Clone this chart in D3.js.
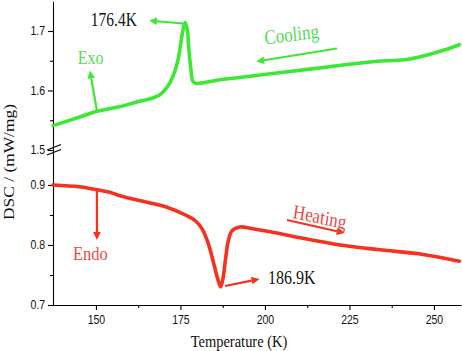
<!DOCTYPE html>
<html>
<head>
<meta charset="utf-8">
<script src="https://cdn.jsdelivr.net/npm/d3@7"></script>
<style>
  body { margin: 0; background: #fff; }
  svg { display: block; }
</style>
</head>
<body>
<svg width="462" height="351"></svg>
<script>
// cooling run (upper curve, green)
const tempCool = [137.3, 145.0, 150.3, 157.1, 163.0, 166.0, 168.9, 171.0, 172.8, 174.3, 175.0, 175.6, 176.4,
                  177.0, 177.5, 178.1, 178.7, 179.6, 186.7, 195.6, 207.4, 219.2, 231.1, 242.9, 248.8, 253.0, 257.5];
const dscCool  = [1.541, 1.555, 1.565, 1.573, 1.582, 1.586, 1.593, 1.605, 1.624, 1.652, 1.675, 1.697, 1.714,
                  1.703, 1.669, 1.635, 1.615, 1.612, 1.618, 1.624, 1.632, 1.640, 1.648, 1.653, 1.661, 1.668, 1.677];

// heating run (lower curve, red)
const tempHeat = [137.3, 145.0, 150.3, 154.1, 157.1, 166.0, 171.0, 176.5, 179.5, 181.5, 183.2, 184.9, 186.0, 186.9,
                  187.6, 188.3, 189.1, 190.2, 192.6, 195.6, 201.5, 210.4, 222.2, 234.0, 245.9, 257.5];
const dscHeat  = [0.900, 0.897, 0.892, 0.888, 0.882, 0.870, 0.863, 0.850, 0.840, 0.826, 0.803, 0.768, 0.744, 0.730,
                  0.745, 0.775, 0.805, 0.823, 0.830, 0.828, 0.822, 0.812, 0.800, 0.792, 0.785, 0.773];

// axis ticks
const xTicks = [150, 175, 200, 225, 250];
const xMinor = [162.5, 187.5, 212.5, 237.5];
const yTicksUp = [1.5, 1.6, 1.7];
const yMinorUp = [1.55, 1.65];
const yTicksLow = [0.7, 0.8, 0.9];
const yMinorLow = [0.75, 0.85];

const green = "#3be834", greenText = "#55dc55";
const red = "#f5321e", redText = "#ea4a4a";
const serif = "'Liberation Serif', 'Times New Roman', serif";
const sans = "'Liberation Sans', Arial, sans-serif";

const svg = d3.select("svg");
const area = { left: 53, right: 461, top: 1, bottom: 305, brk: 150 };

// шкалы: одна по X и две по Y (ось с разрывом)
const scX = d3.scaleLinear().domain([137.3, 258.0]).range([area.left, area.right]);
const scUp = d3.scaleLinear().domain([1.5, 1.75]).range([area.brk, area.top + 0.25]);
const scLow = d3.scaleLinear().domain([0.7, 0.9583]).range([area.bottom, area.brk]);

function styleAxis(g) {
    g.selectAll("path, line").attr("stroke", "#000").attr("stroke-width", 1.1);
    g.selectAll("text").attr("font-family", sans).attr("font-size", 10.5).attr("fill", "#111");
}

// x axis
const gx = svg.append("g")
    .attr("transform", `translate(0, ${area.bottom})`)
    .call(d3.axisBottom(scX).tickValues(xTicks).tickSize(5).tickSizeOuter(0))
    .call(styleAxis);
gx.selectAll("text").attr("transform", "scale(1, 1.2)");

svg.append("g")
    .attr("transform", `translate(0, ${area.bottom})`)
    .call(d3.axisBottom(scX).tickValues(xMinor).tickSize(3).tickFormat(""))
    .call(g => g.select(".domain").remove())
    .call(styleAxis);

// y axis, two segments
[[scUp, yTicksUp, yMinorUp], [scLow, yTicksLow, yMinorLow]].forEach(([sc, major, minor]) => {
    const g = svg.append("g")
        .attr("transform", `translate(${area.left}, 0)`)
        .call(d3.axisLeft(sc).tickValues(major).tickSize(5).tickSizeOuter(0).tickFormat(d3.format(".1f")))
        .call(styleAxis);
    g.selectAll("text").attr("transform", "scale(1, 1.2)").attr("dy", "0.3em");

    svg.append("g")
        .attr("transform", `translate(${area.left}, 0)`)
        .call(d3.axisLeft(sc).tickValues(minor).tickSize(3).tickFormat(""))
        .call(g => g.select(".domain").remove())
        .call(styleAxis);
});

// знак разрыва оси
[-2.5, 2.5].forEach(off => {
    svg.append("line")
        .attr("x1", area.left - 6).attr("y1", area.brk + off + 2.5)
        .attr("x2", area.left + 8).attr("y2", area.brk + off - 3)
        .attr("stroke", "#000").attr("stroke-width", 1.2);
});

// curves
function drawCurve(temps, vals, sc, color) {
    const pts = temps.map((t, i) => [t, vals[i]]);
    const line = d3.line()
        .x(d => scX(d[0]))
        .y(d => sc(d[1]))
        .curve(d3.curveCatmullRom.alpha(0.5));
    svg.append("path")
        .datum(pts)
        .attr("d", line)
        .attr("fill", "none")
        .attr("stroke", color)
        .attr("stroke-width", 3.6)
        .attr("stroke-linejoin", "round")
        .attr("stroke-linecap", "round");
}
drawCurve(tempCool, dscCool, scUp, green);
drawCurve(tempHeat, dscHeat, scLow, red);

// стрелка: из (t1,v1) в (t2,v2) в координатах данных
function arrow(sc, t1, v1, t2, v2, color) {
    const x1 = scX(t1), y1 = sc(v1), x2 = scX(t2), y2 = sc(v2);
    const a = Math.atan2(y2 - y1, x2 - x1), L = 8, w = 3.8;
    const bx = x2 - L * Math.cos(a), by = y2 - L * Math.sin(a);
    svg.append("line")
        .attr("x1", x1).attr("y1", y1).attr("x2", bx).attr("y2", by)
        .attr("stroke", color).attr("stroke-width", 2.2);
    svg.append("path")
        .attr("d", `M${x2},${y2}L${bx - w * Math.sin(a)},${by + w * Math.cos(a)}L${bx + w * Math.sin(a)},${by - w * Math.cos(a)}Z`)
        .attr("fill", color);
}

function label(x, y, txt, size, color, opts = {}) {
    svg.append("text")
        .attr("transform", `translate(${x}, ${y}) scale(1, 1.2) ${opts.rot ? "rotate(" + opts.rot + ")" : ""}`)
        .attr("text-anchor", opts.anchor || "start")
        .attr("font-family", serif)
        .attr("font-size", size)
        .attr("fill", color)
        .text(txt);
}

// annotations, upper
arrow(scUp, 175.8, 1.7126, 165.7, 1.7176, green);
label(scX(162.1), scUp(1.7076), "176.4K", 15.5, "#111", { anchor: "end" });
arrow(scUp, 150.3, 1.566, 148.2, 1.6336, green);
label(scX(144.6), scUp(1.6437), "Exo", 16, greenText);
arrow(scUp, 221.3, 1.6706, 197.4, 1.6487, green);
label(scX(200.0), scUp(1.6773), "Cooling", 17, greenText, { rot: -6 });

// annotations, lower
arrow(scLow, 150.3, 0.8917, 150.3, 0.8083, red);
label(scX(143.2), scLow(0.775), "Endo", 16.5, redText);
arrow(scLow, 206.5, 0.8417, 223.6, 0.8200, red);
label(scX(208.1), scLow(0.845), "Heating", 17, redText, { rot: 10 });
arrow(scLow, 188.2, 0.7317, 198.4, 0.7433, red);
label(scX(200.9), scLow(0.735), "186.9K", 16, "#111");

// axis titles
label(239, 347, "Temperature (K)", 14.5, "#111", { anchor: "middle" });
svg.append("text")
    .attr("transform", "translate(14, 162) rotate(-90) scale(1.2, 1)")
    .attr("text-anchor", "middle")
    .attr("font-family", serif).attr("font-size", 14.5).attr("fill", "#111")
    .text("DSC / (mW/mg)");
</script>
</body>
</html>
